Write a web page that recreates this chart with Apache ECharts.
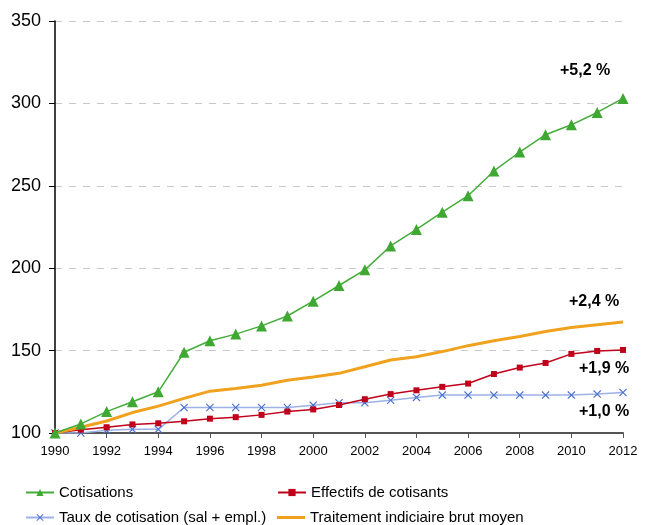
<!DOCTYPE html>
<html>
<head>
<meta charset="utf-8">
<script src="https://cdn.jsdelivr.net/npm/echarts@6/dist/echarts.min.js"></script>
<style>
  html, body { margin: 0; padding: 0; background: #fff; }
  #chart { width: 649px; height: 525px; }
</style>
</head>
<body>
<div id="chart"></div>
<script>
// Index base 100 en 1990
const years = [1990, 1991, 1992, 1993, 1994, 1995, 1996, 1997, 1998, 1999, 2000, 2001,
               2002, 2003, 2004, 2005, 2006, 2007, 2008, 2009, 2010, 2011, 2012];
const cotisations = [100, 105.5, 113, 119, 125, 149, 156, 160, 165, 171, 180, 189.5,
                     199, 213.5, 223.5, 234, 244, 259, 270.5, 281, 287, 294.5, 303];
const effectifs = [100, 102, 103.5, 105.2, 105.9, 107.1, 108.7, 109.6, 111, 113, 114.3, 117,
                   120.5, 123.6, 125.9, 128, 130, 135.8, 139.7, 142.5, 148, 149.8, 150.4];
const taux = [100, 100, 101.6, 102.2, 102.2, 115.5, 115.5, 115.5, 115.5, 115.5, 116.9, 118.3,
              118.3, 119.9, 121.6, 123, 123, 123, 123, 123, 123, 123.6, 124.6];
const traitement = [100, 103.5, 107.3, 112.4, 116.3, 121, 125.4, 127, 129, 132, 134, 136.2,
                    140.2, 144.3, 146.3, 149.4, 153, 156, 158.5, 161.6, 164, 165.7, 167.3];
const yTicks = [100, 150, 200, 250, 300, 350];
const growthLabels = ['+5,2 %', '+2,4 %', '+1,9 %', '+1,0 %'];

const pair = arr => years.map((y, i) => [y, arr[i]]);
const crossPath = 'path://M0,1 L1,0 L5,4 L9,0 L10,1 L6,5 L10,9 L9,10 L5,6 L1,10 L0,9 L4,5 Z';
const FONT = '"Liberation Sans", Arial, sans-serif';

const chart = echarts.init(document.getElementById('chart'), null, { renderer: 'canvas' });

const labelStyle = { fontFamily: FONT, fontSize: 16, fontWeight: 'bold', fill: '#000' };
const legendText = { fontFamily: FONT, fontSize: 15, color: '#000' };

// one legend block per entry, laid out as two columns of two rows
function legendItem(name, left, top, extra) {
  return Object.assign({
    orient: 'horizontal', left: left, top: top, itemWidth: 28, itemHeight: 9,
    padding: 0, textStyle: legendText, data: [name]
  }, extra || {});
}

chart.setOption({
  animation: false,
  backgroundColor: '#fff',
  grid: { left: 55, right: 26, top: 21, bottom: 92, containLabel: false },
  xAxis: {
    type: 'value',
    min: 1990, max: 2012, interval: 2,
    axisLine: { show: true, onZero: false, lineStyle: { color: '#555', width: 2 } },
    axisTick: { show: true, length: 5, lineStyle: { color: '#555', width: 1 } },
    axisLabel: { color: '#000', fontFamily: FONT, fontSize: 13, margin: 12, formatter: v => String(v) },
    splitLine: { show: false }
  },
  yAxis: {
    type: 'value',
    min: yTicks[0], max: yTicks[yTicks.length - 1], interval: 50,
    axisLine: { show: true, lineStyle: { color: '#000', width: 1.5 } },
    axisTick: { show: true, length: 6, lineStyle: { color: '#000', width: 1 } },
    axisLabel: { color: '#000', fontFamily: FONT, fontSize: 18, margin: 14 },
    splitLine: { show: true, lineStyle: { color: '#c8c8c8', type: [7, 7], width: 1 } }
  },
  legend: [
    legendItem('Cotisations', 25, 485),
    legendItem('Taux de cotisation (sal + empl.)', 25, 510),
    legendItem('Effectifs de cotisants', 277, 485),
    legendItem('Traitement indiciaire brut moyen', 277, 510, {
      data: [{ name: 'Traitement indiciaire brut moyen', icon: 'rect' }], itemHeight: 3
    })
  ],
  series: [
    {
      name: 'Taux de cotisation (sal + empl.)', type: 'line', data: pair(taux),
      symbol: crossPath, symbolSize: 8, showAllSymbol: true,
      lineStyle: { color: '#9db1e6', width: 1.5 },
      itemStyle: { color: '#4a6fd0' }, z: 2
    },
    {
      name: 'Effectifs de cotisants', type: 'line', data: pair(effectifs),
      symbol: 'rect', symbolSize: 6, showAllSymbol: true,
      lineStyle: { color: '#c0001a', width: 1.5 },
      itemStyle: { color: '#c0001a' }, z: 3
    },
    {
      name: 'Traitement indiciaire brut moyen', type: 'line', data: pair(traitement),
      symbol: 'none', lineStyle: { color: '#f0a21e', width: 3 },
      itemStyle: { color: '#f0a21e' }, z: 4
    },
    {
      name: 'Cotisations', type: 'line', data: pair(cotisations),
      symbol: 'triangle', symbolSize: 11, showAllSymbol: true,
      lineStyle: { color: '#44ad3a', width: 1.5 },
      itemStyle: { color: '#3ea832' }, z: 5
    }
  ],
  graphic: [
    { type: 'text', left: 560, top: 63, style: Object.assign({ text: growthLabels[0] }, labelStyle) },
    { type: 'text', left: 569, top: 294, style: Object.assign({ text: growthLabels[1] }, labelStyle) },
    { type: 'text', left: 579, top: 361, style: Object.assign({ text: growthLabels[2] }, labelStyle) },
    { type: 'text', left: 579, top: 404, style: Object.assign({ text: growthLabels[3] }, labelStyle) }
  ]
});
</script>
</body>
</html>
